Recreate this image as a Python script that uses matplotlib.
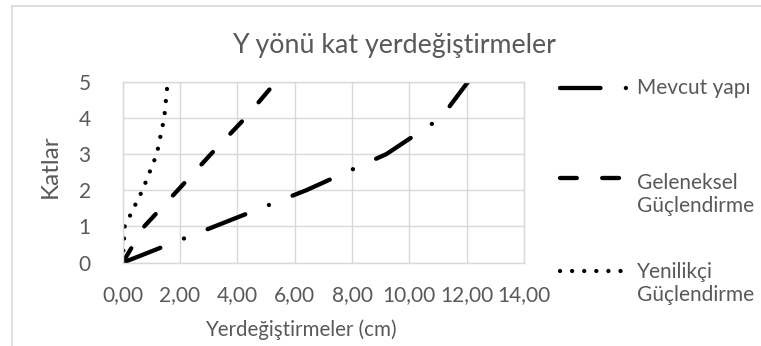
import matplotlib
matplotlib.use('Agg')
import matplotlib.pyplot as plt

# Floor numbers and storey displacements (cm) for each case
katlar = [0, 1, 2, 3, 4, 5]
mevcut_yapi = [0.0, 3.2, 6.4, 9.2, 11.1, 12.05]
geleneksel = [0.0, 0.75, 1.92, 3.08, 4.28, 5.35]
yenilikci = [0.0, 0.07, 0.69, 1.19, 1.45, 1.57]

x_ticks = [0, 2, 4, 6, 8, 10, 12, 14]
y_ticks = [0, 1, 2, 3, 4, 5]

gray_text = '#595959'
grid_color = '#d9d9d9'
lw = 3.1

series = [
    (mevcut_yapi, 'Mevcut yapı', (9.4, 5.9, 0.01, 5.9)),
    (geleneksel, 'Geleneksel\nGüçlendirme', (3.9, 5.9)),
    (yenilikci, 'Yenilikçi\nGüçlendirme', (0.01, 2.8)),
]

plt.rcParams['font.family'] = ['Lato', 'DejaVu Sans']

fig = plt.figure(figsize=(7.61, 3.46), dpi=100)
ax = fig.add_axes([0.1612, 0.2408, 0.5274, 0.5231])

for xs, name, dash in series:
    ax.plot(xs, katlar, color='black', lw=lw, dash_capstyle='round', dashes=dash)

ax.set_xlim(0, 14)
ax.set_ylim(0, 5)
ax.set_xticks(x_ticks)
ax.set_xticklabels([f'{v:.2f}'.replace('.', ',') for v in x_ticks])
ax.set_yticks(y_ticks)
ax.grid(True, color=grid_color, lw=1.0)
ax.set_axisbelow(True)
for s in ax.spines.values():
    s.set_color(grid_color)
    s.set_linewidth(1.0)
ax.tick_params(length=0, labelsize=15, colors=gray_text)
ax.tick_params(axis='y', pad=23)
ax.tick_params(axis='x', pad=16)

ax.set_xlabel('Yerdeğiştirmeler (cm)', fontsize=14.8, color=gray_text)
ax.xaxis.set_label_coords(0.444, -0.372)
ax.xaxis.label.set_va('center')
ax.set_ylabel('Katlar', fontsize=17.5, color=gray_text)
ax.yaxis.set_label_coords(-0.181, 0.534)
ax.yaxis.label.set_va('center')

fig.text(394 / 761, 1 - 45 / 346, 'Y yönü kat yerdeğiştirmeler',
         ha='center', va='center', fontsize=19.3, color=gray_text)

# legend drawn by hand: sample line aligned with the first text line
leg_line_y = [0.9635, 0.468, -0.044]
leg_text_y = [0.965, 0.377, -0.115]
for (xs, name, dash), ly, ty in zip(series, leg_line_y, leg_text_y):
    ax.plot([1.0896, 1.2597], [ly, ly], transform=ax.transAxes, clip_on=False,
            color='black', lw=lw, dash_capstyle='round', dashes=dash)
    ax.text(1.282, ty, name, transform=ax.transAxes, ha='left', va='center',
            fontsize=15, color=gray_text, linespacing=1.15)

# light chart-area border on the left and top
fig.add_artist(plt.Line2D([12 / 761, 12 / 761], [0, 1 - 5.5 / 346], color=grid_color, lw=1.2))
fig.add_artist(plt.Line2D([12 / 761, 1], [1 - 5.5 / 346, 1 - 5.5 / 346], color=grid_color, lw=1.2))

fig.savefig('out.png', dpi=100)
